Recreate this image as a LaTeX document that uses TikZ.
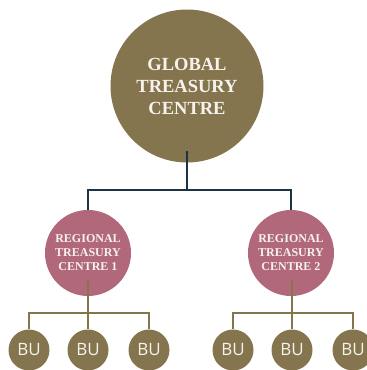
\documentclass[tikz,border=0pt]{standalone}
\usepackage{fontspec}
\setmainfont{Liberation Serif}
\newfontfamily\bufont{Open Sans}
\usetikzlibrary{positioning}

\definecolor{gtcgold}{HTML}{85754E}
\definecolor{rtcpink}{HTML}{B0687A}
\definecolor{linkdark}{HTML}{1B3343}
\definecolor{labelwhite}{HTML}{F7F2EC}

\begin{document}
\begin{tikzpicture}[x=1pt,y=-1pt,
    global/.style={circle,fill=gtcgold,minimum size=153pt,inner sep=0pt,
      text=labelwhite,align=center,font=\fontsize{18.5}{22}\selectfont\bfseries},
    regional/.style={circle,fill=rtcpink,minimum size=86pt,inner sep=0pt,
      text=labelwhite,align=center,font=\fontsize{12}{14}\selectfont\bfseries},
    bu/.style={circle,fill=gtcgold,minimum size=41pt,inner sep=0pt,
      text=labelwhite,font=\bufont\fontsize{17}{20}\selectfont},
    toplink/.style={draw=linkdark,line width=2pt},
    sublink/.style={draw=gtcgold,line width=1.5pt}]
    \useasboundingbox (0,0) rectangle (367,370);

    \node[global]   (gtc)  at (187,86)  {GLOBAL\\TREASURY\\CENTRE};
    \node[regional] (rtc1) at (88,253)  {REGIONAL\\TREASURY\\CENTRE 1};
    \node[regional] (rtc2) at (291,253) {REGIONAL\\TREASURY\\CENTRE 2};

    % business units
    \foreach \name/\xpos in {bu1/29,bu2/88,bu3/149,bu4/233,bu5/292,bu6/353}
      \node[bu] (\name) at (\xpos,350) {BU};

    \coordinate (gtcdot)  at (187,152);
    \coordinate (gtcjoin) at (187,190);
    \coordinate (rtc1dot)  at (88,280);
    \coordinate (rtc1join) at (88,313);
    \coordinate (rtc2dot)  at (292,280);
    \coordinate (rtc2join) at (292,313);

    \path[toplink] (gtcdot) -- (gtcjoin) -| (rtc1.north)
                   (gtcjoin) -| (rtc2.north);
    \fill[linkdark] (gtcdot) circle (1.5pt);

    \path[sublink] (rtc1dot) -- (bu2.north)
                   (rtc1join) -| (bu1.north)
                   (rtc1join) -| (bu3.north)
                   (rtc2dot) -- (bu5.north)
                   (rtc2join) -| (bu4.north)
                   (rtc2join) -| (bu6.north);

\end{tikzpicture}
\end{document}
